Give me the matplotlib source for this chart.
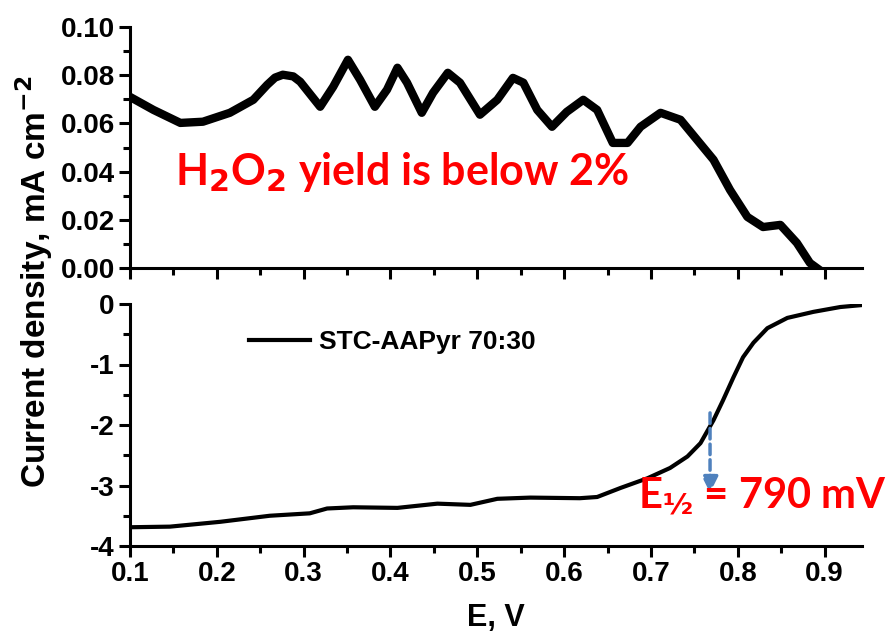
import matplotlib
matplotlib.use("Agg")
import matplotlib.pyplot as plt
from matplotlib.ticker import MultipleLocator

# ---- data ----
x_top = [0.100, 0.127, 0.158, 0.184, 0.215, 0.242, 0.258, 0.267, 0.276, 0.288, 0.296, 0.319, 0.334,
         0.351, 0.365, 0.382, 0.396, 0.408, 0.419, 0.436, 0.449, 0.466, 0.480, 0.503,
         0.523, 0.541, 0.553, 0.569, 0.586, 0.603, 0.622, 0.638, 0.656, 0.673, 0.688,
         0.711, 0.734, 0.753, 0.772, 0.791, 0.811, 0.829, 0.849, 0.868, 0.883, 0.891]
y_top = [0.0710, 0.0656, 0.0602, 0.0607, 0.0644, 0.0698, 0.0760, 0.0790, 0.0802, 0.0795, 0.0773, 0.0669,
         0.0752, 0.0864, 0.0781, 0.0669, 0.0740, 0.0831, 0.0769, 0.0644, 0.0727, 0.0810,
         0.0769, 0.0636, 0.0698, 0.0789, 0.0769, 0.0656, 0.0586, 0.0648, 0.0698, 0.0656,
         0.0519, 0.0519, 0.0586, 0.0644, 0.0615, 0.0532, 0.0449, 0.0324, 0.0212, 0.0170,
         0.0179, 0.0104, 0.0021, 0.0000]

x_bot = [0.100, 0.146, 0.204, 0.261, 0.307, 0.327, 0.357, 0.408, 0.454, 0.492, 0.523,
         0.561, 0.618, 0.638, 0.665, 0.696, 0.722, 0.742, 0.757, 0.772, 0.783, 0.795,
         0.806, 0.818, 0.834, 0.857, 0.887, 0.918, 0.941]
y_bot = [-3.69, -3.68, -3.60, -3.50, -3.46, -3.38, -3.36, -3.37, -3.30, -3.32, -3.22,
         -3.20, -3.21, -3.19, -3.04, -2.88, -2.71, -2.52, -2.30, -1.92, -1.59, -1.21,
         -0.88, -0.64, -0.40, -0.23, -0.13, -0.05, -0.02]

series_label = "STC-AAPyr 70:30"
x_ticks = [0.1, 0.2, 0.3, 0.4, 0.5, 0.6, 0.7, 0.8, 0.9]
top_yticks = [0.00, 0.02, 0.04, 0.06, 0.08, 0.10]
bot_yticks = [-4, -3, -2, -1, 0]
e_half_x = 0.768
e_half_y = (-1.80, -3.12)

FONT = ["Liberation Sans Narrow", "Liberation Sans", "DejaVu Sans"]
ANN_FONT = ["Lato", "Open Sans", "DejaVu Sans"]
plt.rcParams["font.family"] = FONT
plt.rcParams["font.weight"] = "bold"
plt.rcParams["mathtext.default"] = "bf"

fig = plt.figure(figsize=(8.86, 6.37), dpi=100)
ax1 = fig.add_axes([130/886, 1-268/637, 732/886, 241/637])
ax2 = fig.add_axes([130/886, 1-546/637, 732/886, 242/637])

ax1.plot(x_top, y_top, color="black", lw=6.0, solid_joinstyle="round")
ax2.plot(x_bot, y_bot, color="black", lw=3.0, label=series_label)

for ax in (ax1, ax2):
    ax.set_xlim(0.1, 0.943)
    ax.spines["top"].set_visible(False)
    ax.spines["right"].set_visible(False)
    ax.spines["left"].set_linewidth(2.2)
    ax.spines["bottom"].set_linewidth(2.2)
    ax.xaxis.set_major_locator(MultipleLocator(0.1))
    ax.xaxis.set_minor_locator(MultipleLocator(0.05))
    ax.tick_params(which="major", direction="out", length=8, width=2.2, labelsize=20, pad=3)
    ax.tick_params(which="minor", direction="out", length=5, width=2.2)

ax1.set_ylim(0, 0.10)
ax1.set_yticks(top_yticks)
ax1.set_yticklabels([f"{v:.2f}" for v in top_yticks], fontweight="bold")
ax1.yaxis.set_minor_locator(MultipleLocator(0.01))
ax1.set_xticks(x_ticks)
ax1.tick_params(axis="x", labelbottom=False)

ax2.set_ylim(-4, 0)
ax2.set_yticks(bot_yticks)
ax2.set_yticklabels([f"{v:d}" for v in bot_yticks], fontweight="bold")
ax2.yaxis.set_minor_locator(MultipleLocator(0.5))
ax2.set_xticks(x_ticks)
ax2.set_xticklabels([f"{v:.1f}" for v in x_ticks], fontweight="bold")
ax2.set_xlabel("E, V", fontsize=22, fontweight="bold", labelpad=11)

leg = ax2.legend(loc="upper left", bbox_to_anchor=(0.13, 0.99), frameon=False,
                 prop={"family": FONT, "weight": "bold", "size": 19},
                 handlelength=2.3, handletextpad=0.35)

fig.text(34/886, 1-282/637, "Current density, mA cm$^{-2}$", rotation=90,
         ha="center", va="center", fontsize=24, fontweight="bold")

ax1.text(0.413, 0.040, "H$_2$O$_2$ yield is below 2%", color="red",
         fontsize=31, fontweight="bold", family=ANN_FONT, ha="center", va="center")

ax2.annotate("", xy=(e_half_x, e_half_y[1]), xytext=(e_half_x, e_half_y[0]),
             arrowprops=dict(arrowstyle="-|>", color="#4F81BD", lw=2.5, ls=(0, (3, 1.5)),
                             mutation_scale=24, shrinkA=0, shrinkB=0))
ax2.text(0.685, -3.19, "E$_{½}$ = 790 mV", color="red", fontsize=30,
         fontweight="bold", family=ANN_FONT, ha="left", va="center")

fig.savefig("out.png", dpi=100)
